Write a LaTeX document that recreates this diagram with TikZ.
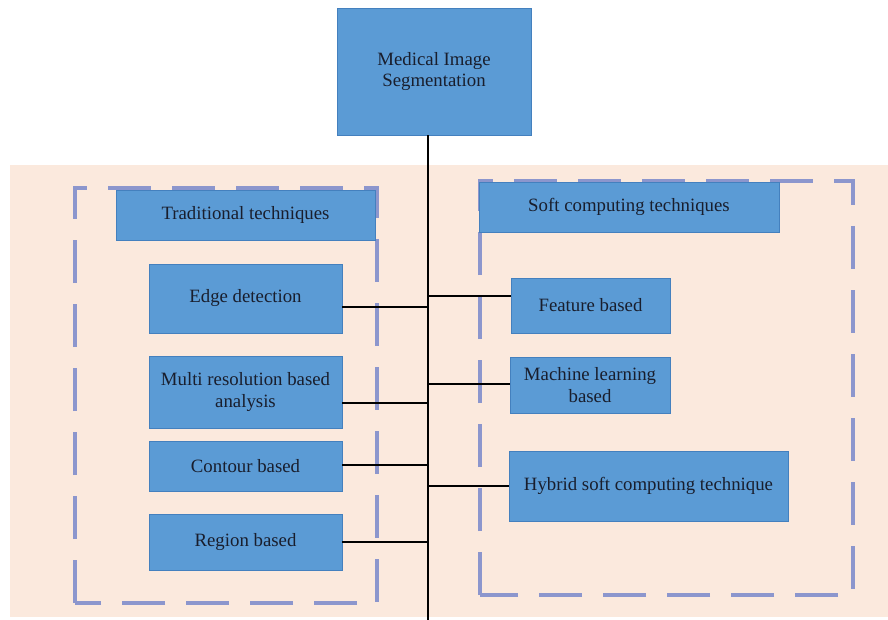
\documentclass[tikz,border=0pt]{standalone}
\usepackage{fontspec}
\setmainfont{Liberation Serif}
\definecolor{boxblue}{RGB}{91,155,213}
\definecolor{boxline}{RGB}{68,128,190}
\definecolor{peach}{RGB}{251,233,221}
\definecolor{dashblue}{RGB}{140,150,205}
\definecolor{inkblue}{RGB}{25,30,45}
\begin{document}
\begin{tikzpicture}
    [x=1pt, y=-1pt,
    tech/.style={draw=boxline, fill=boxblue, line width=0.8pt, inner sep=0pt,
      align=center, text=inkblue, font=\fontsize{18.8}{21.5}\selectfont},
    group/.style={draw=dashblue, line width=4pt, dash pattern=on 43pt off 21pt},
    link/.style={draw=black, line width=1.6pt}]
    \useasboundingbox (0,0) rectangle (888,620);
    \fill[peach] (10,165) rectangle (888,617);
    % dashed groups
    \draw[group] (75,603) rectangle (377,188);
    \draw[group] (480,595) rectangle (853,181);
    % root
    \node[tech, minimum width=194pt, minimum height=127pt] (root) at (434,71.5)
      {Medical Image\\Segmentation};
    % traditional side
    \node[tech, minimum width=259pt, minimum height=50pt] (trad) at (245.5,215)
      {Traditional techniques};
    \node[tech, minimum width=193pt, minimum height=69pt] (edge) at (245.5,298.5)
      {Edge detection};
    \node[tech, minimum width=193pt, minimum height=72pt] (multi) at (245.5,392)
      {Multi resolution based\\analysis};
    \node[tech, minimum width=193pt, minimum height=50pt] (contour) at (245.5,466)
      {Contour based};
    \node[tech, minimum width=193pt, minimum height=56pt] (region) at (245.5,542)
      {Region based};
    % soft computing side
    \node[tech, minimum width=300pt, minimum height=50pt] (soft) at (629,207)
      {Soft computing techniques};
    \node[tech, minimum width=159pt, minimum height=55pt] (feature) at (590.5,305.5)
      {Feature based};
    \node[tech, minimum width=160pt, minimum height=56pt] (machine) at (590,385)
      {Machine learning\\based};
    \node[tech, minimum width=279pt, minimum height=70pt] (hybrid) at (648.5,486)
      {Hybrid soft computing technique};
    % trunk and branches
    \coordinate (base) at (428,620);
    \draw[link] (root.south -| base) -- (base);
    \foreach \n/\y in {edge/307, multi/403, contour/465, region/542} {
      \coordinate (j-\n) at (428,\y);
      \draw[link] (\n.east |- j-\n) -- (j-\n);
    }
    \foreach \n/\y in {feature/296, machine/384, hybrid/486} {
      \coordinate (j-\n) at (428,\y);
      \draw[link] (j-\n) -- (\n.west |- j-\n);
    }
\end{tikzpicture}
\end{document}
